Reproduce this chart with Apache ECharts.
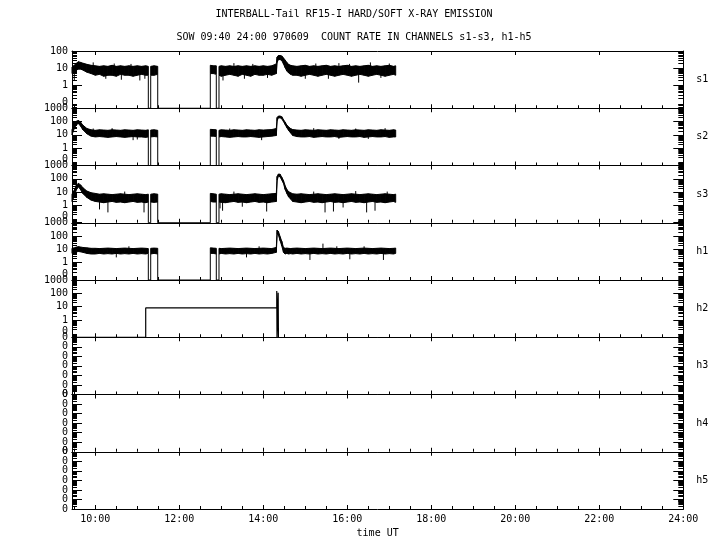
<!DOCTYPE html>
<html><head><meta charset="utf-8">
<script src="https://cdn.jsdelivr.net/npm/echarts@6/dist/echarts.min.js"></script>
<style>html,body{margin:0;padding:0;background:#fff}#c{width:720px;height:550px}</style>
</head><body><div id="c"></div>
<script>
// ---------- text ----------
const titleLine1 = 'INTERBALL-Tail RF15-I HARD/SOFT X-RAY EMISSION';
const titleLine2 = 'SOW 09:40 24:00 970609  COUNT RATE IN CHANNELS s1-s3, h1-h5';
const xAxisName = 'time UT';
const channels = ['s1', 's2', 's3', 'h1', 'h2', 'h3', 'h4', 'h5'];

// ---------- tick labels ----------
const timeTicks = [10, 12, 14, 16, 18, 20, 22, 24];
const timeMinorTicks = [9.5, 10.5, 11, 11.5, 12.5, 13, 13.5, 14.5, 15, 15.5, 16.5, 17, 17.5, 18.5, 19, 19.5, 20.5, 21, 21.5, 22.5, 23, 23.5];
const s1AxisLabels = [0, 1, 10, 100];
const logAxisLabels = [0, 1, 10, 100, 1000];
const flatAxisLabels = [0, 0, 0, 0, 0, 0, 0];

// ---------- data (count rates, min/max per time bin, hours UT) ----------
const binTimes = [
  9.445, 9.5, 9.55, 9.6, 9.65, 9.7, 9.8, 9.9, 10.0, 10.1, 10.2, 10.3, 10.4, 10.5, 10.6, 10.7, 10.8, 10.9, 11.0, 11.1, 11.2, 11.262,
  11.319, 11.4, 11.486,
  12.738, 12.81, 12.881,
  12.945, 13.0, 13.1, 13.2, 13.3, 13.4, 13.5, 13.6, 13.7, 13.8, 13.9, 14.0, 14.1, 14.2,
  14.31, 14.33, 14.36, 14.4, 14.44, 14.48, 14.52, 14.56, 14.6, 14.65, 14.7,
  14.8, 14.9, 15.0, 15.1, 15.2, 15.3, 15.4, 15.5, 15.6, 15.7, 15.8, 15.9, 16.0, 16.1, 16.2, 16.3, 16.4, 16.5, 16.6, 16.7, 16.8, 16.9, 17.0, 17.1, 17.152
];
// data dropouts (count rate 0) between these times
const dropouts = [[11.262, 11.319], [11.486, 12.738], [12.881, 12.945]];

const s1Lo = [5, 6, 8, 9, 9, 8, 6, 5, 4, 4.5, 3.5, 4, 4, 3.5, 4.5, 4, 4, 3.5, 4, 4.5, 4, 4,
  4, 4, 4.5,
  5, 5, 4.5,
  4, 3.5, 4, 4.5, 4, 3.5, 4.5, 4, 3.5, 4.5, 4, 4, 4.5, 4,
  5, 22, 32, 32, 28, 18, 11, 7, 5.5, 4.5, 4,
  4, 3.5, 4, 4.5, 4, 3.5, 4, 4.5, 4, 3.5, 4, 4.5, 4, 3.5, 4, 4.5, 4, 3.5, 4, 4.5, 4, 3.5, 4, 4.5, 4];
const s1Hi = [12, 15, 20, 24, 22, 20, 17, 15, 14, 13, 14, 13, 15, 13, 14, 13, 14, 13, 14, 13, 14, 13,
  13, 14, 13,
  15, 14, 14,
  13, 14, 13, 14, 13, 14, 13, 14, 13, 14, 13, 14, 13, 14,
  18, 45, 55, 55, 52, 40, 30, 22, 17, 15, 14,
  13, 14, 15, 13, 14, 13, 14, 15, 13, 14, 13, 14, 15, 13, 14, 13, 14, 15, 13, 14, 13, 14, 15, 13, 14];

const s2Lo = [10, 30, 60, 70, 45, 25, 12, 8, 7, 7.5, 7, 6.5, 7, 7.5, 7, 6.5, 7, 7.5, 7, 7, 6.5, 7,
  7, 7.5, 7,
  8, 8, 7.5,
  7, 7.5, 7, 6.5, 7, 7.5, 7, 7, 7.5, 7, 6.5, 7, 7.5, 8,
  9, 120, 190, 190, 160, 100, 60, 35, 22, 14, 9,
  7.5, 7, 7, 7.5, 6.5, 7, 7.5, 7, 7, 7.5, 6.5, 7, 7.5, 7, 7, 7.5, 6.5, 7, 7.5, 7, 7, 7.5, 6.5, 7, 7];
const s2Hi = [25, 60, 110, 120, 90, 55, 30, 24, 22, 24, 23, 22, 24, 23, 22, 24, 23, 22, 24, 23, 22, 24,
  23, 24, 22,
  26, 25, 24,
  22, 24, 23, 22, 24, 23, 22, 24, 23, 22, 24, 23, 24, 25,
  30, 200, 260, 260, 230, 140, 90, 55, 40, 30, 25,
  23, 22, 24, 23, 22, 24, 23, 22, 24, 23, 22, 24, 23, 22, 24, 23, 22, 24, 23, 22, 24, 23, 22, 24, 23];

const s3Lo = [2, 5, 15, 25, 15, 8, 4, 2.5, 2, 1.8, 1.6, 1.8, 2, 1.7, 1.8, 1.6, 1.8, 2, 1.7, 1.8, 1.6, 1.8,
  1.8, 1.7, 1.8,
  2, 1.8, 1.8,
  1.8, 1.7, 1.6, 1.8, 2, 1.7, 1.8, 1.6, 1.8, 2, 1.7, 1.8, 1.6, 1.8,
  2, 80, 160, 140, 80, 45, 16, 8, 4.5, 3, 2,
  1.8, 1.6, 1.8, 2, 1.7, 1.8, 1.6, 1.8, 2, 1.7, 1.8, 1.6, 1.8, 2, 1.7, 1.8, 1.6, 1.8, 2, 1.7, 1.8, 1.6, 1.8, 2, 1.7];
const s3Hi = [7, 14, 35, 45, 35, 22, 12, 9, 8, 7, 7.5, 7, 6.5, 7, 7.5, 7, 6.5, 7, 7.5, 7, 6.5, 7,
  7, 7.5, 7,
  8, 7.5, 7,
  7, 7.5, 7, 6.5, 7, 7.5, 7, 6.5, 7, 7.5, 7, 6.5, 7, 7.5,
  8, 150, 230, 220, 130, 75, 30, 16, 11, 9, 7.5,
  7, 7.5, 7, 6.5, 7, 7.5, 7, 6.5, 7, 7.5, 7, 6.5, 7, 7.5, 7, 6.5, 7, 7.5, 7, 6.5, 7, 7.5, 7, 6.5, 7];

const h1Lo = [5, 5.5, 6.5, 7, 6.5, 6, 5, 4.5, 4.5, 5, 4.5, 4.8, 4.5, 5, 4.5, 4.8, 4.5, 5, 4.5, 4.8, 4.5, 5,
  4.5, 5, 4.5,
  5, 5, 4.5,
  4.5, 5, 4.5, 4.8, 4.5, 5, 4.5, 4.8, 4.5, 5, 4.5, 4.8, 4.5, 5,
  6, 150, 120, 45, 18, 6, 4.5, 5, 4.5, 4.8, 4.5,
  5, 4.5, 4.8, 4.5, 5, 4.5, 4.8, 4.5, 5, 4.5, 4.8, 4.5, 5, 4.5, 4.8, 4.5, 5, 4.5, 4.8, 4.5, 5, 4.5, 4.8, 4.5, 5];
const h1Hi = [12, 13, 15, 16, 15, 14, 13, 12, 12, 11.5, 12, 12.5, 12, 11.5, 12, 12.5, 12, 11.5, 12, 12.5, 12, 11.5,
  12, 12.5, 12,
  13, 12.5, 12,
  12, 11.5, 12, 12.5, 12, 11.5, 12, 12.5, 12, 11.5, 12, 12.5, 12, 11.5,
  14, 280, 220, 90, 40, 14, 12, 12.5, 12, 11.5, 12,
  12.5, 12, 11.5, 12, 12.5, 12, 11.5, 12, 12.5, 12, 11.5, 12, 12.5, 12, 11.5, 12, 12.5, 12, 11.5, 12, 12.5, 12, 11.5, 12, 12.5];

// isolated single-sample excursions [time, count]
const s1Spikes = [[9.5, 2], [9.95, 22], [10.25, 2.5], [10.45, 19], [10.62, 2.2], [10.85, 18], [11.06, 2], [11.18, 2.5], [13.04, 2], [13.3, 20], [13.55, 2.5], [13.75, 18], [14.1, 2.8], [15.0, 2.5], [15.25, 19], [15.55, 2.5], [15.8, 20], [16.05, 18], [16.27, 1.5], [16.55, 22], [16.8, 2.8], [17.0, 19]];
const s2Spikes = [[9.95, 30], [10.4, 32], [10.9, 4], [11.0, 4.5], [13.2, 30], [13.96, 4], [15.2, 32], [15.8, 5], [16.2, 30], [16.5, 5], [16.9, 32]];
const s3Spikes = [[10.1, 0.5], [10.3, 0.3], [10.7, 11], [11.16, 0.3], [12.97, 0.6], [13.03, 0.4], [13.3, 11], [13.5, 0.8], [14.08, 0.35], [15.2, 11], [15.47, 0.3], [15.67, 0.35], [15.9, 0.7], [16.2, 12], [16.46, 0.3], [16.66, 0.4], [16.95, 11]];
const h1Spikes = [[10.5, 2.5], [10.8, 17], [13.6, 2.5], [13.9, 17], [15.11, 1.6], [15.42, 27], [15.75, 17], [16.06, 1.8], [16.4, 17], [16.86, 1.6]];

const h2Times = [9.445, 11.2, 11.2, 14.32, 14.32, 14.326, 14.326, 14.354, 14.354, 14.36, 14.36];
const h2Values = [0, 0, 8, 8, 150, 150, 0, 0, 110, 110, 0];

// ---------- layout / style ----------
const xMin = 9.445, xMax = 24;
const ZERO = 0.05;           // where a count of 0 sits on the log axes
const ZERO_TICK = 0.050001;  // tick/label position for "0" (inside the axis extent)
const panelTop = 51, panelH = 57.25, gridLeft = 72, gridRight = 36.7;
const FONT = 'DejaVu Sans Mono';
const BLACK = '#000';

function fmtTime(v) { return (v < 10 ? '0' : '') + v + ':00'; }
function logMinor(max) {
  const out = [0.06, 0.07, 0.08, 0.09];
  [0.1, 1, 10, 100].forEach(d => { for (let m = 2; m <= 9; m++) if (m * d < max) out.push(m * d); });
  return out;
}
function flatMinor() {
  const out = [];
  for (let k = 0; k < 6; k++) for (let m = 2; m <= 9; m++) out.push(k + Math.log10(m));
  return out;
}

const bandData = {
  s1: [s1Lo, s1Hi, s1Spikes],
  s2: [s2Lo, s2Hi, s2Spikes],
  s3: [s3Lo, s3Hi, s3Spikes],
  h1: [h1Lo, h1Hi, h1Spikes]
};

const grids = [], xAxes = [], yAxes = [], series = [];
const txt = {color: BLACK, fontFamily: FONT, fontSize: 10};

channels.forEach((ch, i) => {
  const isLast = i === channels.length - 1;
  grids.push({left: gridLeft, right: gridRight, top: panelTop + i * panelH, height: panelH});
  const base = {gridIndex: i, type: 'value', min: xMin, max: xMax, splitLine: {show: false}};
  xAxes.push(Object.assign({}, base, {
    position: 'bottom',
    axisLine: {show: true, onZero: false, lineStyle: {color: BLACK, width: 1}},
    axisTick: {show: true, inside: true, length: 4, customValues: timeTicks, lineStyle: {color: BLACK}},
    axisLabel: Object.assign({show: isLast, customValues: timeTicks, formatter: fmtTime, margin: 5, showMinLabel: true, showMaxLabel: true}, txt),
    name: isLast ? xAxisName : '', nameLocation: 'middle', nameGap: 19, nameTextStyle: txt
  }));
  xAxes.push(Object.assign({}, base, {
    position: 'bottom',
    axisLine: {show: false, onZero: false},
    axisTick: {show: true, inside: true, length: 3, customValues: timeMinorTicks, lineStyle: {color: BLACK}},
    axisLabel: {show: false}
  }));
  xAxes.push(Object.assign({}, base, {
    position: 'top',
    axisLine: {show: true, onZero: false, lineStyle: {color: BLACK, width: 1}},
    axisTick: {show: true, inside: true, length: 4, customValues: timeTicks, lineStyle: {color: BLACK}},
    axisLabel: {show: false}
  }));

  const isFlat = i >= 5;
  let yBase, majors, minors, labelFmt, labelExtra, labelsA, labelsB;
  const commonLbl = {showMinLabel: true, showMaxLabel: true, hideOverlap: false};
  if (isFlat) {
    yBase = {gridIndex: i, type: 'value', min: 0, max: flatAxisLabels.length - 1, splitLine: {show: false}};
    majors = flatAxisLabels.map((v, k) => k);
    minors = flatMinor();
    labelFmt = (v) => String(flatAxisLabels[Math.round(v)]);
    labelExtra = commonLbl;
    // alternate labels go on two stacked axes so none get dropped as overlapping
    labelsA = majors.filter(k => k % 2 === 0);
    labelsB = majors.filter(k => k % 2 === 1);
  } else {
    const labels = ch === 's1' ? s1AxisLabels : logAxisLabels;
    const max = labels[labels.length - 1];
    yBase = {gridIndex: i, type: 'log', logBase: 10, min: ZERO, max: max, splitLine: {show: false}};
    majors = labels.map(v => v === 0 ? ZERO_TICK : v);
    minors = logMinor(max);
    labelFmt = (v) => v < 0.5 ? '{z|0}' : String(Math.round(v));
    labelExtra = Object.assign({rich: {z: {fontFamily: FONT, fontSize: 10, color: BLACK, padding: [0, 0, 12, 0]}}}, commonLbl);
    labelsA = majors;
    labelsB = null;
  }
  yAxes.push(Object.assign({}, yBase, {
    position: 'left',
    axisLine: {show: true, onZero: false, lineStyle: {color: BLACK, width: 1}},
    axisTick: {show: true, inside: true, length: 10, customValues: majors, lineStyle: {color: BLACK}},
    axisLabel: Object.assign({show: true, customValues: labelsA, formatter: labelFmt, margin: 4}, txt, labelExtra)
  }));
  yAxes.push(Object.assign({}, yBase, {
    position: 'left',
    axisLine: {show: false, onZero: false},
    axisTick: {show: true, inside: true, length: 5, customValues: minors, lineStyle: {color: BLACK}},
    axisLabel: labelsB ? Object.assign({show: true, customValues: labelsB, formatter: labelFmt, margin: 4}, txt, labelExtra) : {show: false}
  }));
  yAxes.push(Object.assign({}, yBase, {
    position: 'right',
    axisLine: {show: true, onZero: false, lineStyle: {color: BLACK, width: 1}},
    axisTick: {show: true, inside: true, length: 10, customValues: majors, lineStyle: {color: BLACK}},
    axisLabel: {show: false},
    name: ch, nameLocation: 'middle', nameRotate: 0, nameGap: 13, nameTextStyle: txt
  }));
  yAxes.push(Object.assign({}, yBase, {
    position: 'right',
    axisLine: {show: false, onZero: false},
    axisTick: {show: true, inside: true, length: 5, customValues: minors, lineStyle: {color: BLACK}},
    axisLabel: {show: false}
  }));

  if (bandData[ch]) {
    const [lo, hi, spikes] = bandData[ch];
    series.push({
      type: 'custom', xAxisIndex: 3 * i, yAxisIndex: 4 * i, silent: true, animation: false,
      data: binTimes.map((t, k) => [t, lo[k], hi[k]]),
      encode: {x: 0, y: [1, 2]},
      renderItem(params, api) {
        const k = params.dataIndexInside;
        if (k >= params.dataInsideLength - 1) return null;
        const t0 = api.value(0, k), l0 = api.value(1, k), h0 = api.value(2, k);
        const t1 = api.value(0, k + 1), l1 = api.value(1, k + 1), h1 = api.value(2, k + 1);
        const isGap = dropouts.some(g => Math.abs(g[0] - t0) < 1e-6);
        if (isGap) {
          return {type: 'polyline', shape: {points: [api.coord([t0, l0]), api.coord([t0, ZERO]), api.coord([t1, ZERO]), api.coord([t1, l1])]},
            style: {stroke: BLACK, lineWidth: 1, fill: null}};
        }
        return {type: 'polygon', shape: {points: [api.coord([t0, l0]), api.coord([t0, h0]), api.coord([t1, h1]), api.coord([t1, l1])]},
          style: {fill: BLACK, stroke: BLACK, lineWidth: 1}};
      }
    });
    series.push({
      type: 'custom', xAxisIndex: 3 * i, yAxisIndex: 4 * i, silent: true, animation: false,
      data: spikes,
      renderItem(params, api) {
        const t = api.value(0), v = api.value(1);
        let best = 0;
        binTimes.forEach((bt, k) => { if (Math.abs(bt - t) < Math.abs(binTimes[best] - t)) best = k; });
        const mid = Math.sqrt(lo[best] * hi[best]);
        const a = api.coord([t, v]), b = api.coord([t, mid]);
        return {type: 'line', shape: {x1: a[0], y1: a[1], x2: b[0], y2: b[1]}, style: {stroke: BLACK, lineWidth: 1}};
      }
    });
  }
  if (ch === 'h2') {
    series.push({
      type: 'line', xAxisIndex: 3 * i, yAxisIndex: 4 * i, silent: true, animation: false,
      showSymbol: false, symbol: 'none',
      lineStyle: {color: BLACK, width: 1.2},
      data: h2Times.map((t, k) => [t, h2Values[k] === 0 ? ZERO : h2Values[k]])
    });
  }
});

const chart = echarts.init(document.getElementById('c'), null, {renderer: 'canvas'});
chart.setOption({
  animation: false,
  backgroundColor: '#fff',
  textStyle: {fontFamily: FONT},
  graphic: [
    {type: 'text', x: 354, y: 14, style: {text: titleLine1, textAlign: 'center', textVerticalAlign: 'middle', fill: BLACK, font: '10px "DejaVu Sans Mono"'}},
    {type: 'text', x: 354, y: 37, style: {text: titleLine2, textAlign: 'center', textVerticalAlign: 'middle', fill: BLACK, font: '10px "DejaVu Sans Mono"'}}
  ],
  grid: grids,
  xAxis: xAxes,
  yAxis: yAxes,
  series: series
});
</script>
</body></html>
